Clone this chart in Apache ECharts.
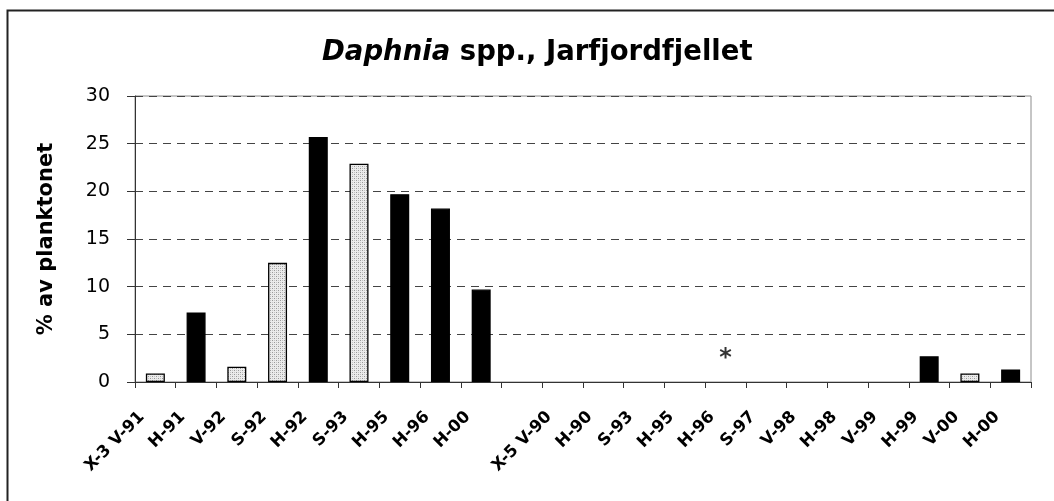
<!DOCTYPE html>
<html>
<head>
<meta charset="utf-8">
<script src="https://cdn.jsdelivr.net/npm/echarts@6/dist/echarts.min.js"></script>
<style>
  html, body { margin: 0; padding: 0; background: #fff; }
  #chart { width: 1054px; height: 501px; }
</style>
</head>
<body>
<div id="chart"></div>
<script>
// Sampling occasions (V = spring, S = summer, H = autumn, X-n = station)
const categories = [
  'X-3 V-91', 'H-91', 'V-92', 'S-92', 'H-92', 'S-93', 'H-95', 'H-96', 'H-00',
  '',
  'X-5 V-90', 'H-90', 'S-93', 'H-95', 'H-96', 'S-97', 'V-98', 'H-98', 'V-99', 'H-99', 'V-00', 'H-00'
];
// Daphnia spp. as % of the plankton
const percentValues = [
  0.9, 7.3, 1.6, 12.5, 25.7, 22.9, 19.7, 18.2, 9.7,
  null,
  0, 0, 0, 0, 0, 0, 0, 0, 0, 2.7, 0.9, 1.3
];
// Footnote markers per sample
const notes = [
  '', '', '', '', '', '', '', '', '',
  '',
  '', '', '', '', '*', '', '', '', '', '', '', ''
];
const yMin = 0, yMax = 30, yStep = 5;

const FONT = 'DejaVu Sans, Verdana, sans-serif';

// Fine dotted fill for the non-autumn samples
function dotPattern() {
  const c = document.createElement('canvas');
  c.width = 4; c.height = 4;
  const g = c.getContext('2d');
  g.fillStyle = '#ebebeb';
  g.fillRect(0, 0, 4, 4);
  g.fillStyle = '#999';
  g.fillRect(0, 0, 1, 1);
  g.fillRect(2, 2, 1, 1);
  g.fillStyle = '#c4c4c4';
  g.fillRect(2, 0, 1, 1);
  g.fillRect(0, 2, 1, 1);
  return c;
}
const dots = { image: dotPattern(), repeat: 'repeat' };
const isAutumn = name => name.charAt(0) === 'H';

// Empty samples get no outline so nothing shows on the axis
const barData = percentValues.map(v => v === 0 ? { value: 0, itemStyle: { borderWidth: 0 } } : v);

const noteData = [];
notes.forEach((n, i) => { if (n) noteData.push({ value: [i, 0], note: n }); });

const chart = echarts.init(document.getElementById('chart'), null, { renderer: 'canvas' });
chart.setOption({
  animation: false,
  backgroundColor: '#fff',
  textStyle: { fontFamily: FONT },
  title: {
    left: 317,
    top: 34,
    padding: 5,
    text: '{i|Daphnia}{b| spp., Jarfjordfjellet}',
    textStyle: {
      rich: {
        i: { fontSize: 27.5, fontWeight: 'bold', fontStyle: 'italic', color: '#000', fontFamily: FONT },
        b: { fontSize: 27.5, fontWeight: 'bold', color: '#000', fontFamily: FONT }
      }
    }
  },
  graphic: [{
    type: 'rect',
    silent: true,
    shape: { x: 7.5, y: 10.5, width: 1200, height: 700 },
    style: { fill: 'none', stroke: '#222', lineWidth: 2 }
  }],
  grid: {
    left: 135, right: 23, top: 96, bottom: 119,
    show: true, borderColor: '#8c8c8c', borderWidth: 1, backgroundColor: '#fff'
  },
  xAxis: {
    type: 'category',
    data: categories,
    boundaryGap: true,
    axisLine: { lineStyle: { color: '#333', width: 1 } },
    axisTick: { show: true, length: 6, inside: false, lineStyle: { color: '#333' }, interval: 0 },
    axisLabel: {
      interval: 0, rotate: 45, margin: 19,
      padding: [0, 19, 0, 0],
      fontSize: 16.5, fontWeight: 'bold', color: '#000',
      fontFamily: FONT
    },
    splitLine: { show: false }
  },
  yAxis: {
    type: 'value',
    min: yMin, max: yMax, interval: yStep,
    name: '% av planktonet',
    nameLocation: 'middle',
    nameRotate: 90,
    nameGap: 78,
    nameTextStyle: { fontSize: 21, fontWeight: 'bold', color: '#000', fontFamily: FONT },
    axisLine: { show: true, lineStyle: { color: '#333', width: 1 } },
    axisTick: { show: true, length: 8, lineStyle: { color: '#333' } },
    axisLabel: { margin: 25, fontSize: 19, color: '#000', fontFamily: FONT },
    splitLine: { show: true, lineStyle: { color: '#444', type: [8, 6], width: 1 } }
  },
  series: [
    {
      type: 'bar',
      data: barData,
      barWidth: 19,
      itemStyle: {
        color: p => isAutumn(p.name) ? '#000' : dots,
        borderColor: '#000',
        borderWidth: 1.3
      }
    },
    {
      type: 'scatter',
      data: noteData,
      symbolSize: 0,
      label: {
        show: true, position: 'top', distance: 11,
        formatter: p => p.data.note,
        fontSize: 24, fontWeight: 'bold', color: '#000',
        fontFamily: FONT
      }
    }
  ]
});
</script>
</body>
</html>
